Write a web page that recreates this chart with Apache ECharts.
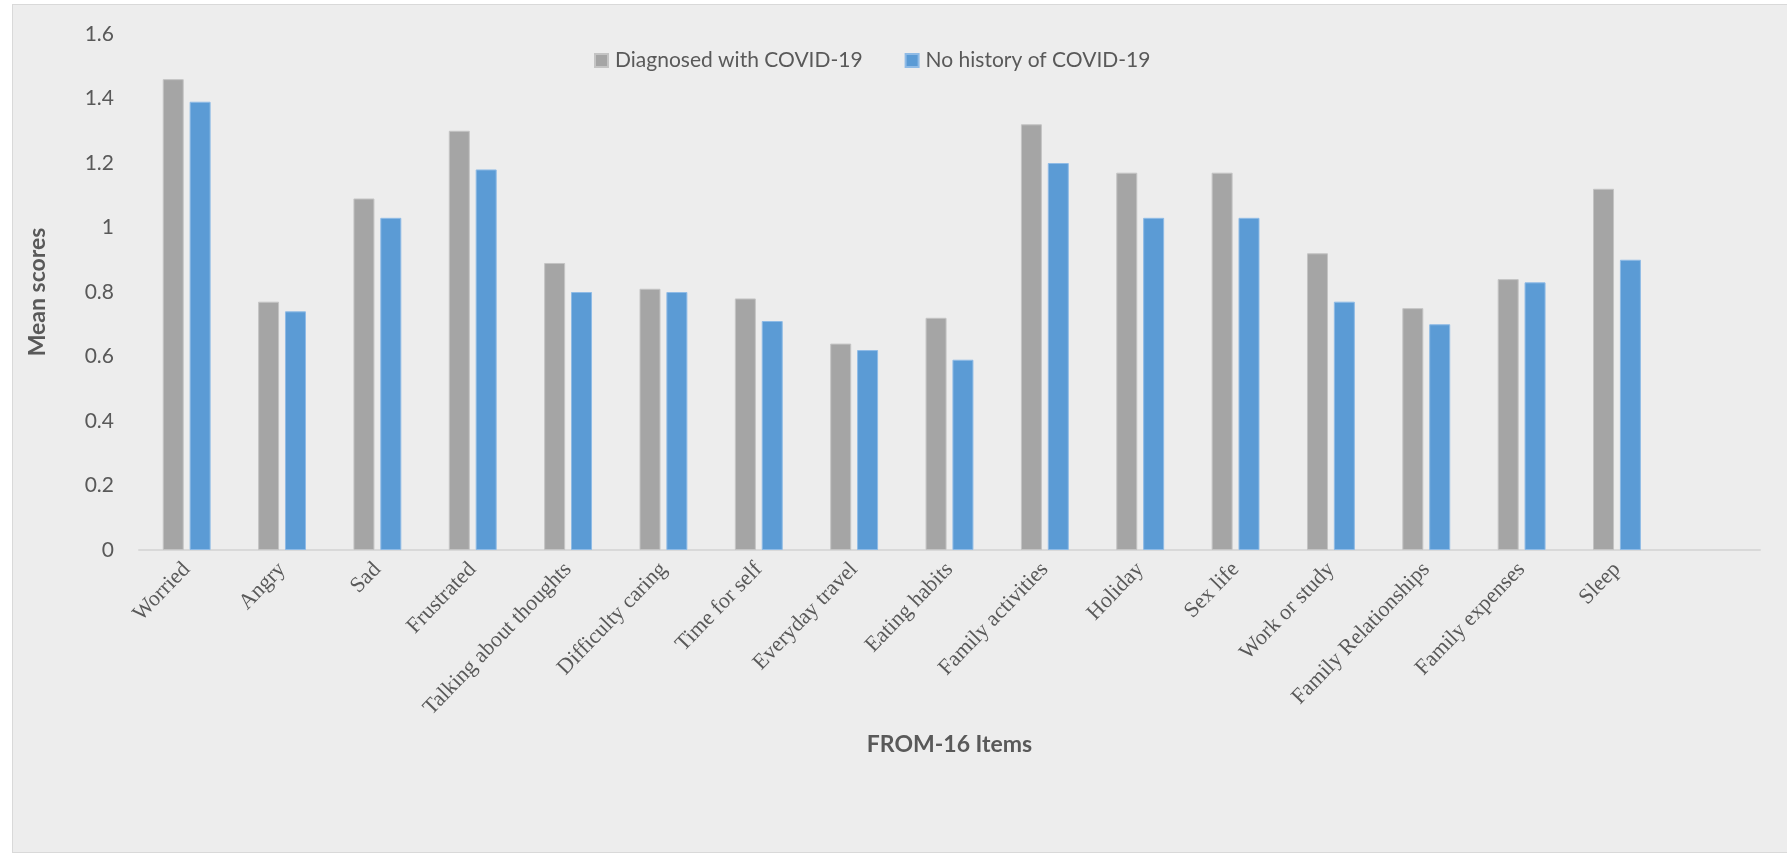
<!DOCTYPE html>
<html>
<head>
<meta charset="utf-8">
<title>FROM-16 Items</title>
<script src="https://cdn.jsdelivr.net/npm/echarts@6/dist/echarts.min.js"></script>
<style>
  html, body { margin: 0; padding: 0; background: #ffffff; overflow: hidden; }
  #panel {
    position: absolute; left: 12px; top: 4px; width: 1790px; height: 847px;
    background: #ededed; border: 1px solid #d9d9d9;
  }
  #chart { position: absolute; left: 0; top: 0; width: 1787px; height: 853px; }
</style>
</head>
<body>
<div id="panel"></div>
<div id="chart"></div>
<script>
// FROM-16 item mean scores by COVID-19 status
const categories = [
  'Worried', 'Angry', 'Sad', 'Frustrated', 'Talking about thoughts',
  'Difficulty caring', 'Time for self', 'Everyday travel', 'Eating habits',
  'Family activities', 'Holiday', 'Sex life', 'Work or study',
  'Family Relationships', 'Family expenses', 'Sleep'
];
const diagnosed = [1.46, 0.77, 1.09, 1.30, 0.89, 0.81, 0.78, 0.64, 0.72, 1.32, 1.17, 1.17, 0.92, 0.75, 0.84, 1.12];
const noHistory = [1.39, 0.74, 1.03, 1.18, 0.80, 0.80, 0.71, 0.62, 0.59, 1.20, 1.03, 1.03, 0.77, 0.70, 0.83, 0.90];
const yTicks = { min: 0, max: 1.6, interval: 0.2 };

const textColor = '#595959';
const sans = 'Lato, "Open Sans", sans-serif';

const chart = echarts.init(document.getElementById('chart'), null, { renderer: 'canvas' });
chart.setOption({
  backgroundColor: 'transparent',
  animation: false,
  legend: {
    left: 589, top: 45,
    itemWidth: 13, itemHeight: 13, itemGap: 42,
    icon: 'rect',
    textStyle: { color: textColor, fontFamily: sans, fontSize: 21, padding: [0, 0, 0, 2] },
    data: ['Diagnosed with COVID-19', 'No history of COVID-19']
  },
  grid: { left: 139, right: 27, top: 34, bottom: 303, containLabel: false },
  xAxis: {
    type: 'category',
    data: categories,
    // one empty slot is kept after the last item
    max: categories.length,
    name: 'FROM-16 Items',
    nameLocation: 'middle',
    nameGap: 183,
    nameTextStyle: { color: textColor, fontFamily: sans, fontSize: 23, fontWeight: 'bold' },
    axisLine: { lineStyle: { color: '#d9d9d9', width: 2 } },
    axisTick: { show: false },
    axisLabel: {
      interval: 0, rotate: 46, margin: 16,
      color: textColor, fontFamily: '"Liberation Serif", "Times New Roman", serif', fontSize: 22
    }
  },
  yAxis: {
    type: 'value',
    min: yTicks.min, max: yTicks.max, interval: yTicks.interval,
    name: 'Mean scores',
    nameLocation: 'middle',
    nameGap: 90,
    nameTextStyle: { color: textColor, fontFamily: sans, fontSize: 23, fontWeight: 'bold' },
    axisLine: { show: false },
    axisTick: { show: false },
    splitLine: { show: false },
    axisLabel: { color: textColor, fontFamily: sans, fontSize: 21, margin: 25 }
  },
  series: [
    {
      name: 'Diagnosed with COVID-19',
      type: 'bar',
      data: diagnosed,
      barWidth: 21,
      barGap: '28%',
      itemStyle: { color: '#a5a5a5', borderColor: '#c4c4c4', borderWidth: 1 }
    },
    {
      name: 'No history of COVID-19',
      type: 'bar',
      data: noHistory,
      barWidth: 21,
      itemStyle: { color: '#5b9bd5', borderColor: '#8fbbe6', borderWidth: 1 }
    }
  ]
});
</script>
</body>
</html>
